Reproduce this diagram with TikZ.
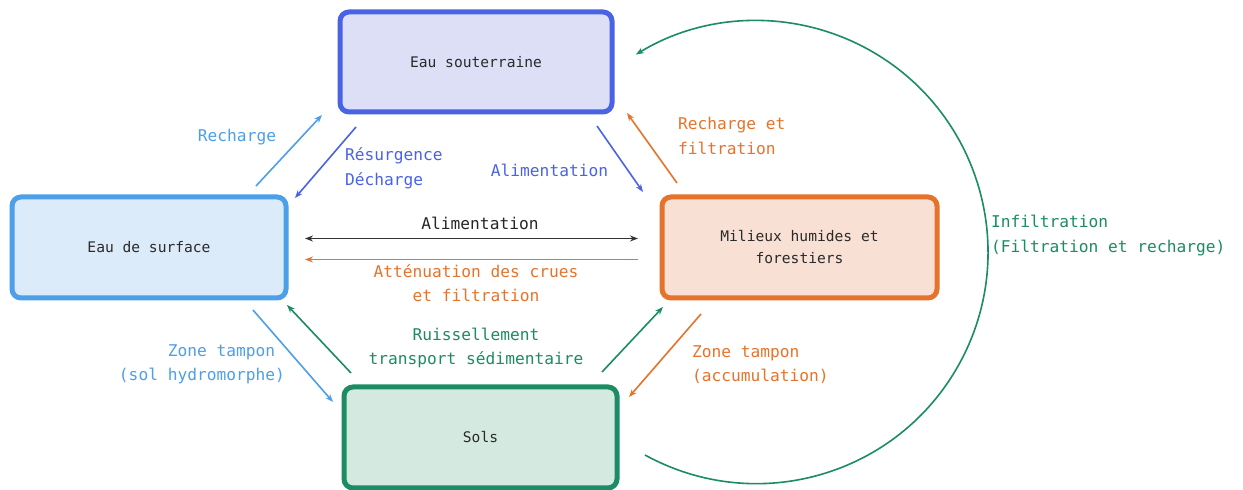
\documentclass[tikz,border=0pt]{standalone}
\usepackage{fontspec}
\newfontfamily\monofam{DejaVu Sans Mono}
\usetikzlibrary{arrows.meta}
\definecolor{gwblue}{HTML}{4A63E4}
\definecolor{gwfill}{HTML}{DCDFF6}
\definecolor{sfblue}{HTML}{4C9FE8}
\definecolor{sffill}{HTML}{DCEBF9}
\definecolor{orng}{HTML}{E6732B}
\definecolor{orfill}{HTML}{F8E1D4}
\definecolor{grn}{HTML}{1B8C63}
\definecolor{grfill}{HTML}{D4EAE1}
\definecolor{boxtext}{HTML}{2A2A2A}
\tikzset{
  x=1pt, y=1pt,
  envbox/.style={draw, line width=5pt, rounded corners=9pt, inner sep=0pt, outer sep=0pt,
    align=center, text=boxtext, font=\monofam\fontsize{14.6}{22}\selectfont},
  lbl/.style={inner sep=0pt, font=\monofam\fontsize{16.2}{24.5}\selectfont},
  flow/.style={line width=1.6pt, -{Stealth[length=8pt,width=6pt]}},
  flow2/.style={line width=1.8pt, {Stealth[length=8pt,width=6pt]}-{Stealth[length=8pt,width=6pt]}}
}
\begin{document}
\begin{tikzpicture}
\useasboundingbox (0,0) rectangle (1243,490);
\fill[white] (0,0) rectangle (1243,490);

% boxes
\node[envbox, draw=gwblue, fill=gwfill, minimum width=272pt, minimum height=100pt] (gw) at (476,428) {Eau souterraine};
\node[envbox, draw=sfblue, fill=sffill, minimum width=274pt, minimum height=101pt] (sw) at (149,242.5) {Eau de surface};
\node[envbox, draw=orng, fill=orfill, minimum width=275pt, minimum height=101pt] (wet) at (799.5,242.5) {Milieux humides et\\forestiers};
\node[envbox, draw=grn, fill=grfill, minimum width=273pt, minimum height=101pt] (sols) at (480.5,52.5) {Sols};

% connectors
\draw[flow, sfblue] ([shift={(-30,11)}]sw.north east) -- ([shift={(-18,-3)}]gw.south west);
\draw[flow, gwblue] ([shift={(16,-15)}]gw.south west) -- ([shift={(9,-1)}]sw.north east);
\draw[flow, gwblue] ([shift={(-15,-14)}]gw.south east) -- ([shift={(-19,5)}]wet.north west);
\draw[flow, orng] ([shift={(15,14)}]wet.north west) -- ([shift={(15,-1)}]gw.south east);
\draw[flow2, black!80] ([shift={(19,9)}]sw.east) -- ([shift={(-24,9)}]wet.west);
\draw[flow, orng, line width=1.8pt] ([shift={(-24,-12)}]wet.west) -- ([shift={(19,-12)}]sw.east);
\draw[flow, sfblue] ([shift={(-33,-12)}]sw.south east) -- ([shift={(-11,-15)}]sols.north west);
\draw[flow, grn] ([shift={(7,14)}]sols.north west) -- ([shift={(1,-7)}]sw.south east);
\draw[flow, grn] ([shift={(-15,15)}]sols.north east) -- ([shift={(1,-9)}]wet.south west);
\draw[flow, orng] ([shift={(39,-16)}]wet.south west) -- ([shift={(12,-10)}]sols.north east);
\draw[flow, grn] ([shift={(28,-17.5)}]sols.east) arc[start angle=-118.8, end angle=121.4, radius=231.5];

% labels
\node[lbl, text=sfblue] (lrech) at (237,353) {Recharge};
\node[lbl, text=gwblue, anchor=west, align=left] (lres) at (345,321.5) {Résurgence\\Décharge};
\node[lbl, text=gwblue] (lali) at (549.5,320) {Alimentation};
\node[lbl, text=orng, anchor=west, align=left] (lrf) at (678,354) {Recharge et\\filtration};
\node[lbl, text=black!85] (lalib) at (480,267) {Alimentation};
\node[lbl, text=orng, align=center] (latt) at (476,207) {Atténuation des crues\\et filtration};
\node[lbl, text=sfblue, anchor=east, align=right] (lzt) at (285,125.5) {Zone tampon\phantom{x}\\(sol hydromorphe)};
\node[lbl, text=grn, align=center] (lrui) at (476,142) {Ruissellement\\transport sédimentaire};
\node[lbl, text=orng, anchor=west, align=left] (lza) at (692,125.5) {Zone tampon\\(accumulation)};
\node[lbl, text=grn, anchor=west, align=left] (linf) at (991,254.5) {Infiltration\\(Filtration et recharge)};
\end{tikzpicture}
\end{document}
